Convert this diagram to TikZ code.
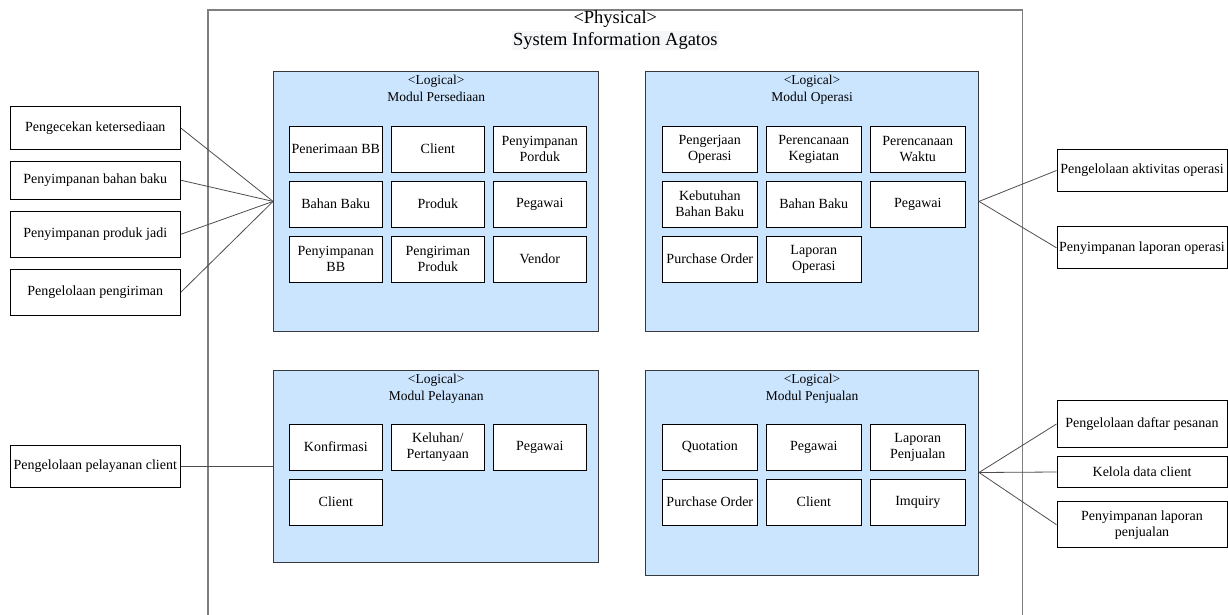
\documentclass[tikz,border=0pt]{standalone}
\usepackage{fontspec}
\setmainfont{Liberation Serif}
\usepackage{xcolor}
\usepackage{tikz}
\usetikzlibrary{positioning}
\definecolor{modfill}{HTML}{CCE5FF}
\definecolor{modline}{HTML}{36393D}
\definecolor{physline}{HTML}{7F7F7F}
\definecolor{conline}{HTML}{4D4D4D}
\definecolor{titlebg}{HTML}{F5F6F7}
\tikzset{
  figfont/.style={font=\fontsize{14}{16}\selectfont},
  figbox/.style={draw, align=center, inner sep=1pt, line width=1pt},
  figitem/.style={figbox, fill=white, minimum width=93pt, minimum height=46pt},
  figitemwide/.style={figitem, minimum width=95pt},
  figside/.style={figbox, fill=white, minimum width=170pt},
  figmodule/.style={draw=modline, fill=modfill, line width=1pt, inner sep=0pt},
  figmodlabel/.style={align=center, inner sep=1pt, yshift=-3pt, font=\fontsize{13.5}{17}\selectfont},
  figline/.style={draw=conline, line width=0.8pt},
  figphys/.style={draw=physline, line width=1.1pt},
}
\begin{document}
\begin{tikzpicture}[x=1pt,y=-1pt,figfont,node distance=8pt]
	\useasboundingbox (0,0) rectangle (1228,614);
		% Physical frame, open at the bottom
			\draw[figphys] (208,620) -- (208,10) -- (1022.5,10) -- (1022.5,620);
			\node[font=\fontsize{18.5}{21}\selectfont, inner sep=0pt] (physTitle) at (615.3,19.5) {\textless Physical\textgreater};
			\node[font=\fontsize{18.5}{21}\selectfont, fill=titlebg, inner sep=1pt, below=3pt of physTitle] (physName) {System Information Agatos};

		% Logical modules
			\node[figmodule, minimum width=325.3pt, minimum height=259.3pt] (persediaan) at (436.2,201.4) {};
			\node[figmodule, minimum width=332.8pt, minimum height=259.3pt] (operasi) at (812.1,201.4) {};
			\node[figmodule, minimum width=325.3pt, minimum height=192.7pt] (pelayanan) at (436.2,466.4) {};
			\node[figmodule, minimum width=332.8pt, minimum height=205pt] (penjualan) at (812.1,472.5) {};
			\node[figmodlabel, anchor=north] at (persediaan.north) {\textless Logical\textgreater\\Modul Persediaan};
			\node[figmodlabel, anchor=north] at (operasi.north) {\textless Logical\textgreater\\Modul Operasi};
			\node[figmodlabel, anchor=north] at (pelayanan.north) {\textless Logical\textgreater\\Modul Pelayanan};
			\node[figmodlabel, anchor=north] at (penjualan.north) {\textless Logical\textgreater\\Modul Penjualan};

		% Modul Persediaan: data items
			\node[figitem] (psTerima) at (335.8,149.2) {Penerimaan BB};
			\node[figitem, right=of psTerima] (psClient) {Client};
			\node[figitem, right=of psClient] (psSimpanProduk) {Penyimpanan\\Porduk};
			\node[figitem, below=of psTerima] (psBahan) {Bahan Baku};
			\node[figitem, right=of psBahan] (psProduk) {Produk};
			\node[figitem, right=of psProduk] (psPegawai) {Pegawai};
			\node[figitem, below=of psBahan] (psSimpanBB) {Penyimpanan\\BB};
			\node[figitem, right=of psSimpanBB] (psKirim) {Pengiriman\\Produk};
			\node[figitem, right=of psKirim] (psVendor) {Vendor};

		% Modul Operasi: data items
			\node[figitemwide] (opKerja) at (709.8,149.2) {Pengerjaan\\Operasi};
			\node[figitemwide, right=of opKerja] (opKegiatan) {Perencanaan\\Kegiatan};
			\node[figitemwide, right=of opKegiatan] (opWaktu) {Perencanaan\\Waktu};
			\node[figitemwide, below=of opKerja] (opKebutuhan) {Kebutuhan\\Bahan Baku};
			\node[figitemwide, right=of opKebutuhan] (opBahan) {Bahan Baku};
			\node[figitemwide, right=of opBahan] (opPegawai) {Pegawai};
			\node[figitemwide, below=of opKebutuhan] (opPO) {Purchase Order};
			\node[figitemwide, right=of opPO] (opLaporan) {Laporan\\Operasi};

		% Modul Pelayanan: data items
			\node[figitem] (plKonfirmasi) at (335.8,447) {Konfirmasi};
			\node[figitem, right=of plKonfirmasi] (plKeluhan) {Keluhan/\\Pertanyaan};
			\node[figitem, right=of plKeluhan] (plPegawai) {Pegawai};
			\node[figitem, below=of plKonfirmasi] (plClient) {Client};

		% Modul Penjualan: data items
			\node[figitemwide] (pjQuotation) at (709.8,447) {Quotation};
			\node[figitemwide, right=of pjQuotation] (pjPegawai) {Pegawai};
			\node[figitemwide, right=of pjPegawai] (pjLaporan) {Laporan\\Penjualan};
			\node[figitemwide, below=of pjQuotation] (pjPO) {Purchase Order};
			\node[figitemwide, right=of pjPO] (pjClient) {Client};
			\node[figitemwide, right=of pjClient] (pjInquiry) {Imquiry};

		% Left functions
			\node[figside, minimum height=42.6pt] (lCek) at (95.3,128) {Pengecekan ketersediaan};
			\node[figside, minimum height=38.3pt] (lBahan) at (95.3,180.2) {Penyimpanan bahan baku};
			\node[figside, minimum height=46pt] (lProduk) at (95.3,234.3) {Penyimpanan produk jadi};
			\node[figside, minimum height=46pt] (lKirim) at (95.3,292.3) {Pengelolaan pengiriman};
			\node[figside, minimum height=42.4pt] (lLayanan) at (95.3,466.5) {Pengelolaan pelayanan client};

		% Right functions
			\node[figside, minimum height=42.4pt] (rAktivitas) at (1142,170.5) {Pengelolaan aktivitas operasi};
			\node[figside, minimum height=42.3pt] (rLapOperasi) at (1142,247.8) {Penyimpanan laporan operasi};
			\node[figside, minimum height=46.6pt] (rPesanan) at (1142,424) {Pengelolaan daftar pesanan};
			\node[figside, minimum height=30.6pt] (rDataClient) at (1142,472) {Kelola data client};
			\node[figside, minimum height=46pt] (rLapJual) at (1142,524.7) {Penyimpanan laporan\\penjualan};

		% Connectors
			\draw[figline] (lCek.east) -- (persediaan.west);
			\draw[figline] (lBahan.east) -- (persediaan.west);
			\draw[figline] (lProduk.east) -- (persediaan.west);
			\draw[figline] (lKirim.east) -- (persediaan.west);
			\draw[figline] (lLayanan.east) -- (pelayanan.west);
			\draw[figline] (operasi.east) -- (rAktivitas.west);
			\draw[figline] (operasi.east) -- (rLapOperasi.west);
			\draw[figline] (penjualan.east) -- (rPesanan.west);
			\draw[figline] (penjualan.east) -- (rDataClient.west);
			\draw[figline] (penjualan.east) -- (rLapJual.west);
\end{tikzpicture}
\end{document}
